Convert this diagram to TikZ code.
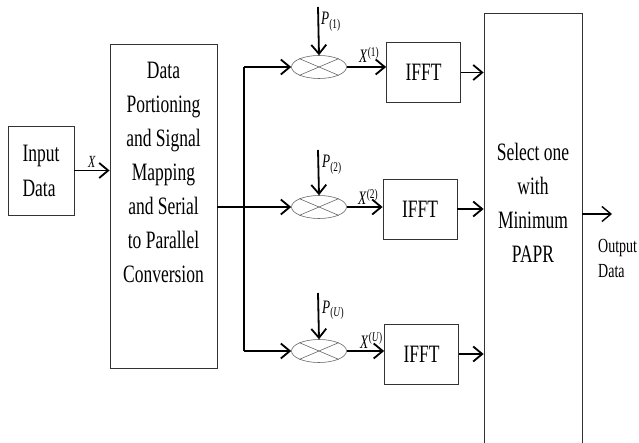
\documentclass[tikz,border=0pt]{standalone}
\usepackage{fontspec}
\setmainfont{Liberation Serif}[FakeStretch=0.7]
\usetikzlibrary{arrows.meta, shapes.geometric, positioning}

\begin{document}
\begin{tikzpicture}[x=1pt, y=-1pt, >={Straight Barb[length=9pt, width=15pt]},
    blk/.style={draw=black!80, line width=0.8pt, inner sep=0pt},
    mixer/.style={draw=black!60, ellipse, line width=0.6pt, minimum width=55pt,
        minimum height=23pt, inner sep=0pt},
    txt/.style={font=\fontsize{25}{34}\selectfont, align=center, inner sep=0pt},
    lbl/.style={font=\fontsize{19}{19}\selectfont, inner sep=0pt},
    wire/.style={line width=1.8pt}]
    \useasboundingbox (0,0) rectangle (639,443);
    % Blocks
    \node[blk, minimum width=66pt, minimum height=89pt, txt, align=left,
        font=\fontsize{25}{35}\selectfont] (inp) at (41,170.5) {Input\\Data};
    \node[blk, minimum width=107pt, minimum height=324pt] (map) at (163.5,206) {};
    \node[txt] (maptxt) at (163.5,172) {Data\\Portioning\\and Signal\\Mapping\\and Serial\\to Parallel\\Conversion};
    \node[blk, minimum width=98pt, minimum height=440pt] (sel) at (533,233) {};
    \node[txt] (seltxt) at (533,203) {Select one\\with\\Minimum\\PAPR};
    % Branches
    \node[mixer] (mul1) at (319,67) {};
    \node[mixer] (mul2) at (319,207) {};
    \node[mixer] (mul3) at (319,351) {};
    \node[blk, minimum width=74pt, minimum height=60pt, txt] (ifft1) at (423.5,72.5) {IFFT};
    \node[blk, minimum width=74pt, minimum height=60pt, txt] (ifft2) at (420,209) {IFFT};
    \node[blk, minimum width=74pt, minimum height=60pt, txt] (ifft3) at (421.5,354) {IFFT};
    \foreach \i in {1,2,3}{
        \draw[black!60, line width=0.6pt] (mul\i.north west) -- (mul\i.south east);
        \draw[black!60, line width=0.6pt] (mul\i.south west) -- (mul\i.north east);
    }
    % Input arrow
    \draw[wire,->] (inp.east) -- (inp.east -| map.west)
        node[midway, above=2pt, lbl, font=\fontsize{17}{17}\selectfont] (xin) {\textit{X}};
    % Bus
    \coordinate (b1) at (244,67);
    \coordinate (bus) at (244,207);
    \coordinate (b3) at (244,351);
    \draw[wire] (map.east |- bus) -- (bus);
    \draw[wire] (b1) -- (b3);
    \draw[wire,->] (b1) -- (mul1.west);
    \draw[wire,->] (bus) -- (mul2.west);
    \draw[wire,->] (b3) -- (mul3.west);
    % Phase factors
    \coordinate (p1) at (318,7);
    \coordinate (p2) at (318,150);
    \coordinate (p3) at (318,293);
    \draw[wire,->] (p1) -- (mul1.north);
    \draw[wire,->] (p2) -- (mul2.north);
    \draw[wire,->] (p3) -- (mul3.north);
    \node[lbl, anchor=base west] (lp1) at (321,25) {\textit{P}\textsubscript{(1)}};
    \node[lbl, anchor=base west] (lp2) at (322,168) {\textit{P}\textsubscript{(2)}};
    \node[lbl, anchor=base west] (lp3) at (322,313) {\textit{P}\textsubscript{(\textit{U})}};
    % Mixer to IFFT
    \draw[wire,->] (mul1.east) -- (mul1.east -| ifft1.west);
    \draw[wire,->] (mul2.east) -- (mul2.east -| ifft2.west);
    \draw[wire,->] (mul3.east) -- (mul3.east -| ifft3.west);
    \node[lbl, anchor=base west] (lx1) at (359,63) {\textit{X}\textsuperscript{(1)}};
    \node[lbl, anchor=base west] (lx2) at (358,205) {\textit{X}\textsuperscript{(2)}};
    \node[lbl, anchor=base west] (lx3) at (360,348) {\textit{X}\textsuperscript{(\textit{U})}};
    % IFFT to selector
    \draw[wire,->] (ifft1.east) -- (ifft1.east -| sel.west);
    \draw[wire,->] (ifft2.east) -- (ifft2.east -| sel.west);
    \draw[wire,->] (ifft3.east) -- (ifft3.east -| sel.west);
    % Output
    \coordinate (out) at (612,214);
    \draw[line width=1.4pt,->] (sel.east |- out) -- (out);
    \node[font=\fontsize{20}{25}\selectfont, align=left, inner sep=0pt, anchor=north west]
        (outtxt) at (598,239) {Output\\Data};
\end{tikzpicture}
\end{document}
